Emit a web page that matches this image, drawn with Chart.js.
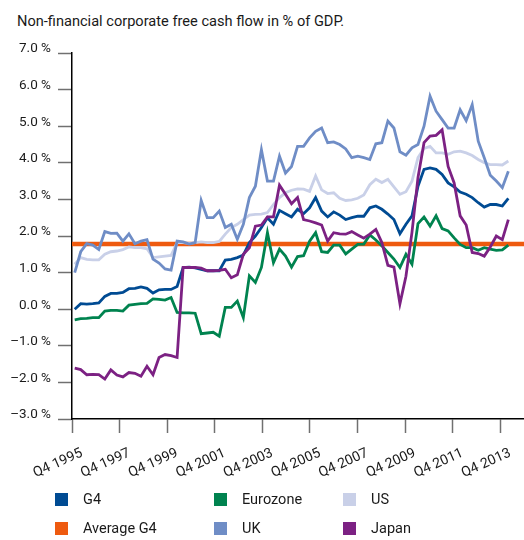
<!DOCTYPE html>
<html>
<head>
<meta charset="utf-8">
<script src="https://cdn.jsdelivr.net/npm/chart.js@4"></script>
<style>
  html, body { margin: 0; padding: 0; background: #fff; }
  body { width: 524px; height: 540px; position: relative; overflow: hidden;
         font-family: Roboto, "Liberation Sans", Arial, sans-serif; color: #1a1a1a; }
  #title { position: absolute; left: 17px; top: 13px; font-size: 14.6px; line-height: 16px; white-space: nowrap; }
  #chartBox { position: absolute; left: 0; top: 0; width: 524px; height: 540px; }
  .item { position: absolute; font-size: 14.5px; line-height: 16px; white-space: nowrap; }
  .item span.box { position: absolute; left: 0; top: 1px; width: 13px; height: 13px; }
  .item span.txt { position: absolute; left: 28px; top: 0; }
</style>
</head>
<body>
<div id="title">Non-financial corporate free cash flow in % of GDP.</div>
<div id="chartBox"><canvas id="fcfChart" width="524" height="540"></canvas></div>
<div id="legend"></div>
<script>
// quarterly values, Q4 1995 .. Q4 2013, in % of GDP
const g4 = [0.00, 0.15, 0.14, 0.15, 0.17, 0.35, 0.43, 0.43, 0.46, 0.56, 0.57, 0.61, 0.57, 0.44, 0.53, 0.54, 0.54, 0.62,
  1.14, 1.15, 1.13, 1.09, 1.05, 1.05, 1.05, 1.34, 1.36, 1.41, 1.48, 1.82, 2.00, 2.23, 2.50, 2.32, 2.70, 2.61, 2.52,
  2.73, 2.61, 2.77, 3.05, 2.68, 2.52, 2.66, 2.57, 2.45, 2.50, 2.54, 2.54, 2.77, 2.82, 2.73, 2.60, 2.45, 2.06, 2.32,
  2.55, 3.36, 3.82, 3.86, 3.82, 3.68, 3.45, 3.34, 3.20, 3.14, 3.05, 2.91, 2.79, 2.86, 2.86, 2.82, 3.03];
const eurozone = [-0.29, -0.26, -0.25, -0.23, -0.23, -0.05, -0.03, -0.03, -0.05, 0.11, 0.13, 0.15, 0.16, 0.28, 0.27, 0.25, 0.32, -0.09,
  -0.10, -0.10, -0.11, -0.67, -0.65, -0.63, -0.74, 0.05, 0.05, 0.22, -0.23, 0.91, 0.73, 1.14, 2.09, 1.27, 1.64, 1.45, 1.15,
  1.44, 1.46, 1.86, 2.09, 1.57, 1.55, 1.75, 1.75, 1.51, 1.64, 1.77, 1.78, 2.03, 1.89, 1.73, 1.55, 1.37, 1.14, 1.50,
  1.23, 2.34, 2.52, 2.27, 2.55, 2.20, 2.14, 1.95, 1.77, 1.68, 1.68, 1.61, 1.68, 1.64, 1.61, 1.62, 1.75];
const us = [1.23, 1.41, 1.36, 1.35, 1.35, 1.50, 1.57, 1.59, 1.63, 1.70, 1.68, 1.68, 1.65, 1.41, 1.43, 1.45, 1.47, 1.82,
  1.82, 1.80, 1.82, 1.84, 1.82, 1.82, 1.85, 2.05, 2.23, 2.32, 2.45, 2.57, 2.59, 2.60, 2.64, 2.86, 3.05, 3.18, 3.25,
  3.29, 3.28, 3.22, 3.64, 3.26, 3.16, 3.18, 3.03, 2.97, 2.99, 3.03, 3.12, 3.40, 3.55, 3.46, 3.55, 3.34, 3.14, 3.21,
  3.50, 4.14, 4.39, 4.45, 4.27, 4.27, 4.23, 4.30, 4.32, 4.27, 4.20, 4.09, 4.00, 3.95, 3.95, 3.94, 4.05];
const uk = [1.00, 1.57, 1.79, 1.75, 1.63, 2.12, 2.07, 2.08, 1.86, 2.06, 1.79, 1.86, 1.90, 1.37, 1.26, 1.10, 1.07, 1.86,
  1.84, 1.78, 1.82, 2.97, 2.50, 2.50, 2.68, 2.23, 2.32, 1.91, 2.32, 3.05, 3.36, 4.36, 3.50, 3.50, 4.18, 3.72, 3.90,
  4.45, 4.45, 4.68, 4.86, 4.95, 4.55, 4.57, 4.50, 4.38, 4.14, 4.18, 4.14, 4.09, 4.52, 4.55, 5.14, 4.95, 4.30, 4.21,
  4.41, 4.50, 5.00, 5.82, 5.41, 5.18, 4.95, 4.95, 5.45, 5.15, 5.59, 4.59, 4.14, 3.66, 3.50, 3.32, 3.77];
const japan = [-1.61, -1.65, -1.79, -1.78, -1.79, -1.91, -1.66, -1.80, -1.85, -1.73, -1.75, -1.83, -1.56, -1.79, -1.32, -1.24, -1.27, -1.32,
  1.14, 1.14, 1.14, 1.12, 1.05, 1.05, 1.06, 1.09, 0.86, 0.94, 1.50, 1.68, 2.27, 2.30, 2.52, 2.52, 3.39, 3.14, 2.88,
  3.05, 2.45, 2.41, 2.36, 2.30, 1.86, 2.09, 2.06, 2.05, 2.12, 2.03, 1.94, 2.05, 2.18, 1.82, 1.20, 1.15, 0.15, 0.90,
  2.10, 3.60, 4.55, 4.73, 4.75, 4.90, 3.90, 3.45, 2.55, 2.30, 1.55, 1.52, 1.45, 1.70, 2.00, 1.90, 2.45];
const averageG4 = 1.78;

const tickLabels = ['Q4 1995', 'Q4 1997', 'Q4 1999', 'Q4 2001', 'Q4 2003',
  'Q4 2005', 'Q4 2007', 'Q4 2009', 'Q4 2011', 'Q4 2013'];

const colors = {
  g4: '#004b93', eurozone: '#00834f', us: '#c9d0e8',
  avg: '#ee5a0f', uk: '#6f8dc6', japan: '#7c2183'
};

const toPoints = arr => arr.map((v, i) => ({ x: i, y: v }));
const fontFamily = 'Roboto, "Liberation Sans", Arial, sans-serif';

function seriesLine(label, data, color, order) {
  return {
    label: label,
    data: toPoints(data),
    xAxisID: 'xq',
    borderColor: color,
    backgroundColor: color,
    borderWidth: 2.8,
    pointRadius: 0,
    tension: 0,
    order: order
  };
}

const datasets = [
  seriesLine('G4', g4, colors.g4, 2),
  seriesLine('Eurozone', eurozone, colors.eurozone, 3),
  seriesLine('US', us, colors.us, 6),
  {
    label: 'Average G4',
    data: [{ x: 0, y: averageG4 }, { x: 76, y: averageG4 }],
    xAxisID: 'x',
    borderColor: colors.avg,
    backgroundColor: colors.avg,
    borderWidth: 4.5,
    pointRadius: 0,
    order: 7
  },
  seriesLine('UK', uk, colors.uk, 5),
  seriesLine('Japan', japan, colors.japan, 1)
];

const chart = new Chart(document.getElementById('fcfChart'), {
  type: 'line',
  data: { datasets: datasets },
  options: {
    responsive: false,
    animation: false,
    events: [],
    layout: { padding: { top: 53, left: 0, right: 0, bottom: 0 } },
    plugins: { legend: { display: false }, title: { display: false }, tooltip: { enabled: false } },
    scales: {
      x: {
        type: 'linear',
        position: 'bottom',
        min: 0,
        max: 76,
        afterFit: scale => { scale.height = 121; },
        // one tick every eight quarters
        afterBuildTicks: scale => { scale.ticks = tickLabels.map((_, k) => ({ value: k * 8 })); },
        grid: { drawOnChartArea: false, drawTicks: true, tickLength: 14, tickColor: '#707070', tickWidth: 1.5 },
        border: { display: true, color: '#000', width: 1.5 },
        ticks: {
          autoSkip: false,
          minRotation: 24,
          maxRotation: 24,
          padding: 12,
          labelOffset: 10,
          color: '#1a1a1a',
          font: { family: fontFamily, size: 14 },
          callback: v => tickLabels[v / 8]
        }
      },
      xq: {
        type: 'linear',
        display: false,
        min: -0.45,
        max: 74.6
      },
      y: {
        min: -3,
        max: 7,
        afterFit: scale => { scale.width = 72; },
        grid: { drawOnChartArea: false, drawTicks: true, tickLength: 14, tickColor: '#707070', tickWidth: 1.5 },
        border: { display: true, color: '#000', width: 1.5 },
        ticks: {
          stepSize: 1,
          padding: 7,
          labelOffset: -4,
          color: '#1a1a1a',
          font: { family: fontFamily, size: 13.5 },
          callback: v => (v < 0 ? '\u2013' : '') + Math.abs(v).toFixed(1) + ' %'
        }
      }
    }
  }
});

// legend: three columns, two rows
const legendSlots = [
  { ds: 0, left: 55, top: 492 }, { ds: 1, left: 214, top: 492 }, { ds: 2, left: 343, top: 492 },
  { ds: 3, left: 55, top: 521 }, { ds: 4, left: 214, top: 521 }, { ds: 5, left: 343, top: 521 }
];
const legendEl = document.getElementById('legend');
legendSlots.forEach(slot => {
  const ds = chart.data.datasets[slot.ds];
  const item = document.createElement('div');
  item.className = 'item';
  item.style.left = slot.left + 'px';
  item.style.top = slot.top + 'px';
  item.innerHTML = '<span class="box" style="background:' + ds.borderColor + '"></span><span class="txt">' + ds.label + '</span>';
  legendEl.appendChild(item);
});
</script>
</body>
</html>
